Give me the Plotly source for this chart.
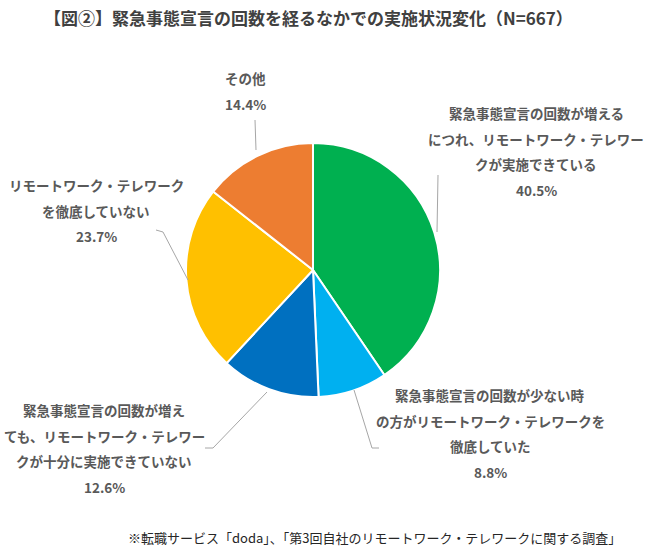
import plotly.graph_objects as go

W, H = 650, 557

categories = [
    "緊急事態宣言の回数が増えるにつれ、リモートワーク・テレワークが実施できている",
    "緊急事態宣言の回数が少ない時の方がリモートワーク・テレワークを徹底していた",
    "緊急事態宣言の回数が増えても、リモートワーク・テレワークが十分に実施できていない",
    "リモートワーク・テレワークを徹底していない",
    "その他",
]
values = [40.5, 8.8, 12.6, 23.7, 14.4]
colors = ["#00B050", "#00B0F0", "#0070C0", "#FFC000", "#ED7D31"]

label_lines = [
    ["緊急事態宣言の回数が増える", "につれ、リモートワーク・テレワー", "クが実施できている"],
    ["緊急事態宣言の回数が少ない時", "の方がリモートワーク・テレワークを", "徹底していた"],
    ["緊急事態宣言の回数が増え", "ても、リモートワーク・テレワー", "クが十分に実施できていない"],
    ["リモートワーク・テレワーク", "を徹底していない"],
    ["その他"],
]
# label anchor (px): center x, top-line y
label_pos = [(536, 113), (490, 395), (104, 410), (96, 185), (245, 78)]
line_gap = 25.6

title = "【図②】緊急事態宣言の回数を経るなかでの実施状況変化（N=667）"
footer = "※転職サービス「doda」、「第3回自社のリモートワーク・テレワークに関する調査」"

cx, cy, r = 313, 270, 127

def px(x):
    return x / W

def py(y):
    return 1 - y / H

fig = go.Figure(go.Pie(
    labels=categories,
    values=values,
    sort=False,
    direction="clockwise",
    rotation=0,
    marker=dict(colors=colors, line=dict(color="white", width=2)),
    textinfo="none",
    hoverinfo="label+percent",
    showlegend=False,
    domain=dict(x=[px(cx - r), px(cx + r)], y=[py(cy + r), py(cy - r)]),
))

font_label = dict(family="Noto Sans CJK JP", size=13.5, color="#595959")
annotations = []
for lines, v, (x, y) in zip(label_lines, values, label_pos):
    all_lines = lines + [f"{v}%"]
    for i, t in enumerate(all_lines):
        annotations.append(dict(
            x=px(x), y=py(y + i * line_gap), xref="paper", yref="paper",
            text=f"<b>{t}</b>", showarrow=False, xanchor="center", yanchor="middle",
            font=font_label,
        ))

annotations.append(dict(
    x=px(308), y=py(18), xref="paper", yref="paper", text=f"<b>{title}</b>",
    showarrow=False, xanchor="center", yanchor="middle",
    font=dict(family="Noto Sans CJK JP", size=17, color="#404040"),
))
annotations.append(dict(
    x=px(623), y=py(537), xref="paper", yref="paper", text=footer,
    showarrow=False, xanchor="right", yanchor="middle",
    font=dict(family="Noto Sans CJK JP", size=13, color="#262626"),
))

leaders = [
    [(437, 232), (438, 175)],
    [(354, 390), (372, 448), (379, 448)],
    [(267, 392), (213, 448), (205, 448)],
    [(188, 280), (163, 232), (156, 230)],
    [(256, 150), (255, 120)],
]
shapes = []
for pts in leaders:
    path = "M " + " L ".join(f"{px(x)},{py(y)}" for x, y in pts)
    shapes.append(dict(type="path", path=path, xref="paper", yref="paper",
                       line=dict(color="#A6A6A6", width=1)))

fig.update_layout(
    width=W, height=H,
    margin=dict(l=0, r=0, t=0, b=0),
    paper_bgcolor="white", plot_bgcolor="white",
    annotations=annotations, shapes=shapes,
)

fig.write_html("out.html")
